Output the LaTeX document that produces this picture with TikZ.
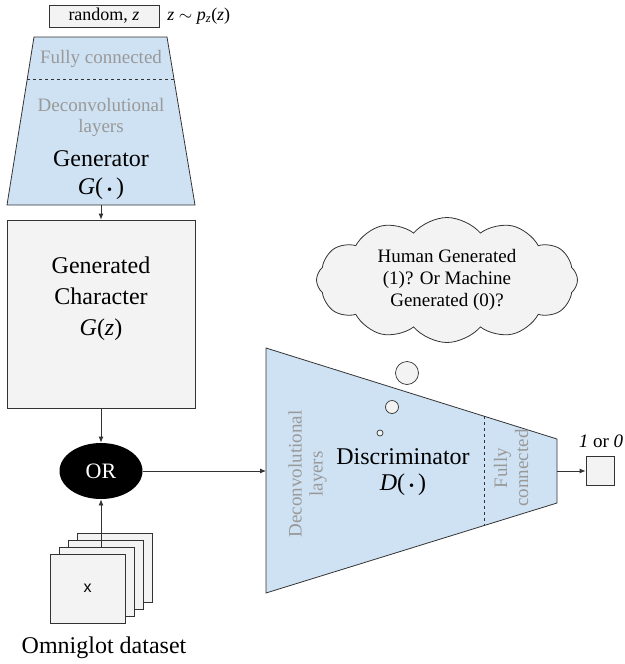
\documentclass[tikz,border=0pt]{standalone}
\usepackage{fontspec}
\setmainfont{Liberation Serif}
\newfontfamily\xfont{Liberation Sans}
\usetikzlibrary{shapes,arrows.meta}
\definecolor{netblue}{HTML}{CFE2F3}
\definecolor{boxgray}{HTML}{F3F3F3}
\definecolor{txtgray}{HTML}{999999}
\definecolor{linegray}{HTML}{333333}
\newcommand{\smalldot}{\,\scalebox{0.6}{\textbullet}\,}

\begin{document}
\begin{tikzpicture}
  [x=1pt,y=-1pt,line width=0.8pt,
   every node/.style={inner sep=0pt,align=center},
   big/.style={font=\rmfamily\fontsize{24}{31}\selectfont},
   mid/.style={font=\rmfamily\fontsize{19}{22}\selectfont},
   layer/.style={font=\rmfamily\fontsize{19}{21}\selectfont,text=txtgray},
   conn/.style={draw=linegray,-{Latex[length=6pt,width=5pt]}},
   card/.style={draw=linegray,fill=boxgray,minimum width=75pt,minimum height=69pt},
   bubble/.style={circle,draw=linegray,fill=boxgray,line width=0.7pt}]
  \useasboundingbox (0,0) rectangle (624,664);

  % noise input
  \node[draw=linegray,fill=boxgray,minimum width=110pt,minimum height=22pt,
        font=\rmfamily\fontsize{18}{20}\selectfont] (rnd) at (104,16) {random, \textit{z}};
  \node[anchor=west,font=\rmfamily\fontsize{18}{20}\selectfont] (pz) at (167,16)
    {\textit{z} $\sim$ \textit{p}\textsubscript{\textit{z}}(\textit{z})};

  % generator
  \draw[draw=linegray,fill=netblue] (34,37) -- (167,37) -- (195,205) -- (7,205) -- cycle;
  \draw[draw=linegray,dashed] (27.3,79) -- (174,79);
  \node[layer] (gfc) at (101,59) {Fully connected};
  \node[layer] (gdc) at (101,117) {Deconvolutional\\layers};
  \node[big] (gname) at (101,159) {Generator};
  \node[big] (gfun) at (101,189) {\textit{G}(\smalldot)};
  \coordinate (gout) at (101,205);

  \node[draw=linegray,fill=boxgray,minimum width=188pt,minimum height=188pt] (gen) at (101,314) {};
  \node[big] (gtext) at (101,299) {Generated\\Character\\\textit{G}(\textit{z})};

  \node[ellipse,fill=black,minimum width=83pt,minimum height=56pt,text=white,
        font=\rmfamily\fontsize{22}{22}\selectfont] (orn) at (101,471) {OR};

  % dataset
  \foreach \i in {3,2,1,0}
    \node[card] (card\i) at (87.5+9*\i,588.5-7*\i) {};
  \node[font=\xfont\fontsize{16}{16}\selectfont] (xlab) at (card0) {x};
  \node[big] (omni) at (104,648) {Omniglot dataset};

  % discriminator
  \draw[draw=linegray,fill=netblue] (266,348) -- (557,439) -- (557,503) -- (266,593) -- cycle;
  \draw[draw=linegray,dashed] (484,416.2) -- (484,525.6);
  \node[layer,rotate=90] (ddc) at (307.5,474) {Deconvolutional\\layers};
  \node[layer,rotate=90] (dfc) at (511,468) {Fully\\connected};
  \node[big] (dname) at (403,457) {Discriminator};
  \node[big] (dfun) at (403,485) {\textit{D}(\smalldot)};
  \coordinate (dleft) at (266,471);
  \coordinate (dright) at (557,471);

  \node[draw=linegray,fill=boxgray,minimum width=28pt,minimum height=29pt] (out) at (600,471) {};
  \node[mid] (outlab) at (601,441) {\textit{1} or \textit{0}};

  % thought
  \node[cloud,cloud puffs=12,cloud puff arc=100,aspect=2.1,draw=linegray,fill=boxgray,
        minimum width=261pt,minimum height=125pt,mid] (thought) at (447,280)
    {Human Generated\\(1)? Or Machine\\Generated (0)?};
  \foreach \n/\x/\y/\d in {b1/407/373/23,b2/392/407/13,b3/380/433/6}
    \node[bubble,minimum size=\d pt] (\n) at (\x,\y) {};

  \foreach \from/\to in {gout/gen,gen/orn,orn/dleft,dright/out}
    \draw[conn] (\from) -- (\to);
  \draw[conn] (card1.north -| orn) -- (orn);

\end{tikzpicture}
\end{document}
